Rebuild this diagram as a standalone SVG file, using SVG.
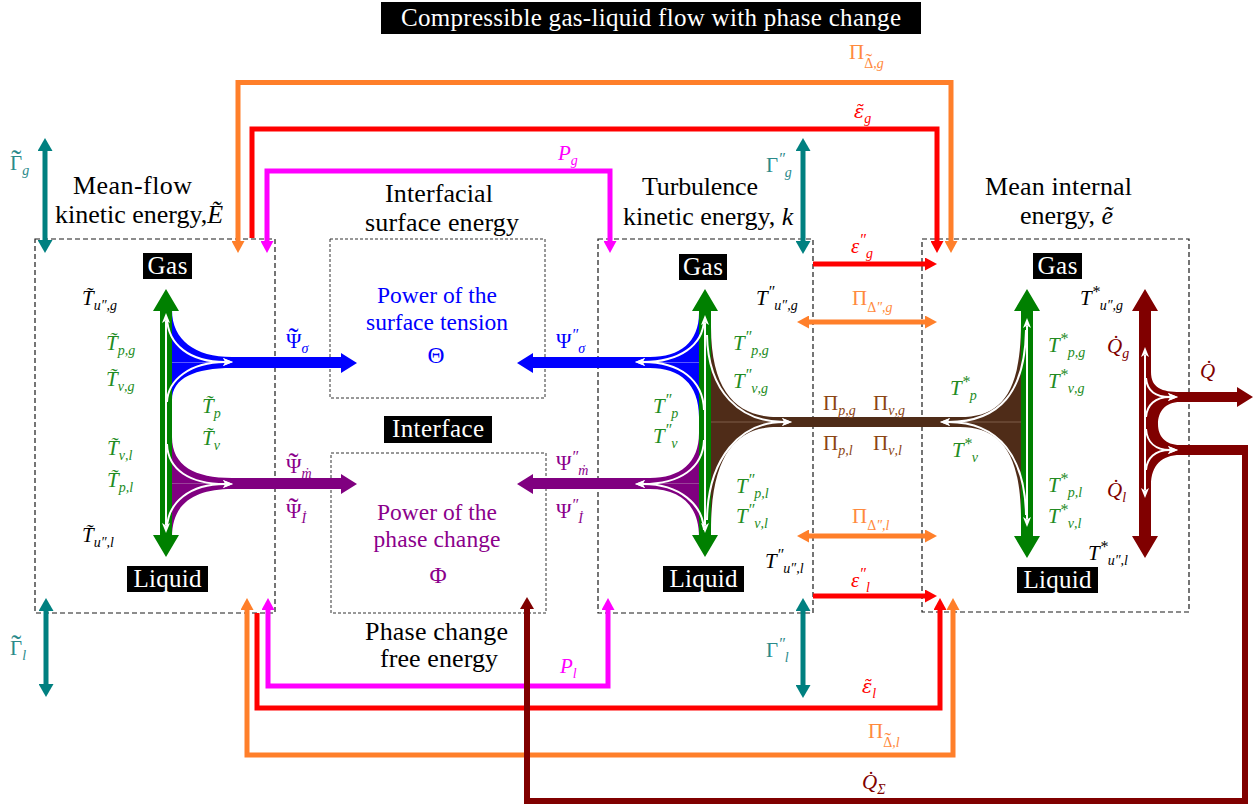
<svg xmlns="http://www.w3.org/2000/svg" width="1260" height="806" viewBox="0 0 1260 806" font-family="'Liberation Serif', 'Times New Roman', 'DejaVu Serif', serif">
<defs>
<style>
.box{fill:none;stroke:#1a1a1a;stroke-width:1.2;stroke-dasharray:5 3}
.ibox{fill:none;stroke:#333;stroke-width:1;stroke-dasharray:3 2}
.h{font-family:'Liberation Serif','Times New Roman','DejaVu Serif',serif;font-size:26px;fill:#000}
.hc{text-anchor:middle}
.in{font-family:'Liberation Serif','Times New Roman','DejaVu Serif',serif;font-size:23.5px;text-anchor:middle}
.tag{fill:#000}
.tt{font-family:'Liberation Serif','Times New Roman','DejaVu Serif',serif;font-size:25px;fill:#fff;text-anchor:middle}
.m{font-family:'Liberation Serif','Times New Roman','DejaVu Serif',serif;font-style:italic;font-size:21px}
.u{font-style:normal}
.gk{font-family:'DejaVu Serif',serif;font-size:19px}
.tl{font-style:normal;font-size:30px}
.tls{font-style:normal;font-size:20px}
.s{font-size:14px}
.p{font-size:16px}
.cg{fill:#228b22}.ck{fill:#000}.cb{fill:#0000ff}.cp{fill:#8b008b}.ct{fill:#2b8a8a}
.co{fill:#ff8a3d}.cr{fill:#ff0000}.cm{fill:#ff00ff}.cmr{fill:#800000}.cbr{fill:#8b4513}
.ln{fill:none;stroke-width:5}
.wa{fill:none;stroke:#fff;stroke-width:2;marker-end:url(#hW)}
.wd{fill:none;stroke:#fff;stroke-width:2;marker-start:url(#hW);marker-end:url(#hW)}
.fl{stroke-width:0.8;fill:none}
</style>
<marker id="hO" viewBox="0 0 12 13" refX="0" refY="6.5" markerWidth="12" markerHeight="13" markerUnits="userSpaceOnUse" orient="auto-start-reverse"><path d="M0,0L12,6.5L0,13Z" fill="#ff7f2a"/></marker>
<marker id="hR" viewBox="0 0 12 13" refX="0" refY="6.5" markerWidth="12" markerHeight="13" markerUnits="userSpaceOnUse" orient="auto-start-reverse"><path d="M0,0L12,6.5L0,13Z" fill="#ff0000"/></marker>
<marker id="hM" viewBox="0 0 12 13" refX="0" refY="6.5" markerWidth="12" markerHeight="13" markerUnits="userSpaceOnUse" orient="auto-start-reverse"><path d="M0,0L12,6.5L0,13Z" fill="#ff00ff"/></marker>
<marker id="hT" viewBox="0 0 13 15" refX="0" refY="7.5" markerWidth="13" markerHeight="15" markerUnits="userSpaceOnUse" orient="auto-start-reverse"><path d="M0,0L13,7.5L0,15Z" fill="#008080"/></marker>
<marker id="hMr" viewBox="0 0 12 14" refX="0" refY="7" markerWidth="12" markerHeight="14" markerUnits="userSpaceOnUse" orient="auto-start-reverse"><path d="M0,0L12,7L0,14Z" fill="#800000"/></marker>
<marker id="hW" viewBox="0 0 10 8" refX="2" refY="4" markerWidth="10" markerHeight="8" markerUnits="userSpaceOnUse" orient="auto-start-reverse"><path d="M0,0L10,4L0,8L2.5,4Z" fill="#fff"/></marker>
</defs>
<rect width="1260" height="806" fill="#fff"/>

<g id="node-title">
<rect x="381" y="2" width="540" height="32" class="tag"/>
<text x="651" y="26" class="tt" textLength="500">Compressible gas-liquid flow with phase change</text>
</g>

<g id="node-mean-flow-ke">
<rect x="35" y="239" width="240" height="374" class="box"/>
<text x="132.5" y="194" class="h hc" textLength="119">Mean-flow</text>
<text x="55" y="223" class="h">kinetic energy,<tspan font-style="italic">Ẽ</tspan></text>
<rect x="143" y="253" width="49" height="26" class="tag"/>
<text x="167.5" y="274" class="tt" textLength="40">Gas</text>
<rect x="127" y="566" width="81" height="26" class="tag"/>
<text x="167.5" y="587" class="tt" textLength="68">Liquid</text>
<polygon points="166,289 179,311 172,311 172,535 179,535 166,557 153,535 160,535 160,311 153,311" fill="#008000"/>
<text x="82" y="305" class="m ck">T̃<tspan class="s" dy="5">u″,g</tspan></text>
<text x="106" y="350" class="m cg">T̃<tspan class="s" dy="5">p,g</tspan></text>
<text x="106" y="386" class="m cg">T̃<tspan class="s" dy="5">ν,g</tspan></text>
<text x="202" y="413" class="m cg">T̃<tspan class="s" dy="5">p</tspan></text>
<text x="202" y="445" class="m cg">T̃<tspan class="s" dy="5">ν</tspan></text>
<text x="107" y="455" class="m cg">T̃<tspan class="s" dy="5">ν,l</tspan></text>
<text x="107" y="487" class="m cg">T̃<tspan class="s" dy="5">p,l</tspan></text>
<text x="82" y="542" class="m ck">T̃<tspan class="s" dy="5">u″,l</tspan></text>
</g>

<g id="node-interfacial-surface-energy">
<rect x="330" y="239" width="215" height="159" class="ibox"/>
<text x="439" y="202" class="h hc" textLength="108">Interfacial</text>
<text x="442" y="231" class="h hc" textLength="154">surface energy</text>
<text x="437" y="303" class="in cb" textLength="120">Power of the</text>
<text x="437" y="330" class="in cb" textLength="142">surface tension</text>
<text x="436" y="363" class="in cb">Θ</text>
</g>

<g id="node-interface">
<rect x="384" y="416" width="108" height="27" class="tag"/>
<text x="438" y="437" class="tt" textLength="92">Interface</text>
</g>

<g id="node-phase-change-free-energy">
<rect x="331" y="453" width="215" height="160" class="ibox"/>
<text x="437" y="520" class="in cp" textLength="120">Power of the</text>
<text x="437" y="547" class="in cp" textLength="127">phase change</text>
<text x="438" y="583" class="in cp">Φ</text>
<text x="436.5" y="640" class="h hc" textLength="143">Phase change</text>
<text x="439" y="667" class="h hc" textLength="118">free energy</text>
</g>

<g id="node-turbulence-ke">
<rect x="598" y="239" width="215" height="374" class="box"/>
<text x="700" y="195" class="h hc" textLength="116">Turbulence</text>
<text x="623" y="225" class="h">kinetic energy, <tspan font-style="italic">k</tspan></text>
<rect x="679" y="254" width="48" height="26" class="tag"/>
<text x="703" y="275" class="tt" textLength="40">Gas</text>
<rect x="663" y="566" width="81" height="26" class="tag"/>
<text x="703.5" y="587" class="tt" textLength="68">Liquid</text>
<polygon points="705,289 718,311 711,311 711,535 718,535 705,557 692,535 699,535 699,311 692,311" fill="#008000"/>
<text x="756" y="305" class="m ck">T<tspan class="p" dy="-8">″</tspan><tspan class="s" dy="13">u″,g</tspan></text>
<text x="733" y="350" class="m cg">T<tspan class="p" dy="-8">″</tspan><tspan class="s" dy="13">p,g</tspan></text>
<text x="733" y="388" class="m cg">T<tspan class="p" dy="-8">″</tspan><tspan class="s" dy="13">ν,g</tspan></text>
<text x="653" y="413" class="m cg">T<tspan class="p" dy="-8">″</tspan><tspan class="s" dy="13">p</tspan></text>
<text x="653" y="443" class="m cg">T<tspan class="p" dy="-8">″</tspan><tspan class="s" dy="13">ν</tspan></text>
<text x="736" y="493" class="m cg">T<tspan class="p" dy="-8">″</tspan><tspan class="s" dy="13">p,l</tspan></text>
<text x="736" y="523" class="m cg">T<tspan class="p" dy="-8">″</tspan><tspan class="s" dy="13">ν,l</tspan></text>
<text x="765" y="568" class="m ck">T<tspan class="p" dy="-8">″</tspan><tspan class="s" dy="13">u″,l</tspan></text>
</g>

<g id="node-mean-internal-energy">
<rect x="922" y="239" width="267" height="373" class="box"/>
<text x="1058.5" y="195" class="h hc" textLength="147">Mean internal</text>
<text x="1020" y="224" class="h">energy, <tspan font-style="italic">ẽ</tspan></text>
<rect x="1033" y="253" width="49" height="26" class="tag"/>
<text x="1057.5" y="274" class="tt" textLength="40">Gas</text>
<rect x="1017" y="567" width="81" height="26" class="tag"/>
<text x="1057.5" y="588" class="tt" textLength="68">Liquid</text>
<polygon points="1027,289 1040,311 1033,311 1033,536 1040,536 1027,558 1014,536 1021,536 1021,311 1014,311" fill="#008000"/>
<text x="1080" y="305" class="m ck">T<tspan class="p" dy="-8">*</tspan><tspan class="s" dy="13">u″,g</tspan></text>
<text x="1048" y="352" class="m cg">T<tspan class="p" dy="-8">*</tspan><tspan class="s" dy="13">p,g</tspan></text>
<text x="1048" y="388" class="m cg">T<tspan class="p" dy="-8">*</tspan><tspan class="s" dy="13">ν,g</tspan></text>
<text x="950" y="395" class="m cg">T<tspan class="p" dy="-8">*</tspan><tspan class="s" dy="13">p</tspan></text>
<text x="952" y="457" class="m cg">T<tspan class="p" dy="-8">*</tspan><tspan class="s" dy="13">ν</tspan></text>
<text x="1048" y="492" class="m cg">T<tspan class="p" dy="-8">*</tspan><tspan class="s" dy="13">p,l</tspan></text>
<text x="1048" y="523" class="m cg">T<tspan class="p" dy="-8">*</tspan><tspan class="s" dy="13">ν,l</tspan></text>
<text x="1088" y="560" class="m ck">T<tspan class="p" dy="-8">*</tspan><tspan class="s" dy="13">u″,l</tspan></text>
<text x="1107" y="353" class="m cmr">Q̇<tspan class="s" dy="5">g</tspan></text>
<text x="1107" y="497" class="m cmr">Q̇<tspan class="s" dy="5">l</tspan></text>
</g>

<g id="connectors">
<path d="M238,241 L238,82.5 L951,82.5 L951,241" class="ln" stroke="#ff7f2a" marker-start="url(#hO)" marker-end="url(#hO)"/>
<path d="M252,238 L252,129 L937,129 L937,241" class="ln" stroke="#ff0000" marker-end="url(#hR)"/>
<path d="M267,241 L267,171 L610,171 L610,241" class="ln" stroke="#ff00ff" marker-start="url(#hM)" marker-end="url(#hM)"/>
<path d="M268,610 L268,686 L608,686 L608,610" class="ln" stroke="#ff00ff" marker-start="url(#hM)" marker-end="url(#hM)"/>
<path d="M257,613 L257,708 L940,708 L940,610" class="ln" stroke="#ff0000" marker-end="url(#hR)"/>
<path d="M247,610 L247,755 L953,755 L953,610" class="ln" stroke="#ff7f2a" marker-start="url(#hO)" marker-end="url(#hO)"/>
<path d="M813,264 L925,264" class="ln" stroke="#ff0000" marker-end="url(#hR)"/>
<path d="M809,322 L925,322" class="ln" stroke="#ff7f2a" marker-start="url(#hO)" marker-end="url(#hO)"/>
<path d="M809,536 L925,536" class="ln" stroke="#ff7f2a" marker-start="url(#hO)" marker-end="url(#hO)"/>
<path d="M813,596 L925,596" class="ln" stroke="#ff0000" marker-end="url(#hR)"/>
<path d="M45,151 L45,240" class="ln" stroke="#008080" marker-start="url(#hT)" marker-end="url(#hT)"/>
<path d="M46,611 L46,684" class="ln" stroke="#008080" marker-start="url(#hT)" marker-end="url(#hT)"/>
<path d="M803,151 L803,241" class="ln" stroke="#008080" marker-start="url(#hT)" marker-end="url(#hT)"/>
<path d="M803,611 L803,685" class="ln" stroke="#008080" marker-start="url(#hT)" marker-end="url(#hT)"/>
<path d="M172,310 C172,340 195,357 232,357 L341,357 L341,353 L357,363 L341,373 L341,368 L232,368 C195,368 172,378 172,400 Z" fill="#0000ff"/>
<path d="M172,437 C172,466 195,478 232,478 L341,478 L341,474 L357,484 L341,494 L341,489 L232,489 C195,489 172,503 172,537 Z" fill="#800080"/>
<path d="M699,313 C699,342 680,357 650,357 L533,357 L533,353 L517,363 L533,373 L533,368 L650,368 C680,368 699,384 699,417 Z" fill="#0000ff"/>
<path d="M699,433 C699,463 680,478 650,478 L533,478 L533,474 L517,484 L533,494 L533,489 L650,489 C680,489 699,505 699,537 Z" fill="#800080"/>
<path d="M711,327 C711,395 740,417 777,417 L960,417 C1000,417 1021,395 1021,323 L1021,520 C1021,452 1000,427 960,427 L777,427 C740,427 711,450 711,530 Z" fill="#4f2c18"/>
<path d="M172,362.5 L232,362.5" class="fl" stroke="#7070ff"/>
<path d="M172,483.5 L232,483.5" class="fl" stroke="#a050a0"/>
<path d="M650,362.5 L699,362.5" class="fl" stroke="#7070ff"/>
<path d="M650,483.5 L699,483.5" class="fl" stroke="#a050a0"/>
<path d="M711,422 L770,422 M965,422 L1021,422" class="fl" stroke="#8a6a55"/>
<polygon points="1145,289 1158,311 1151,311 1151,536 1158,536 1145,558 1132,536 1139,536 1139,311 1132,311" fill="#800000"/>
<path d="M1151,372 C1151,388 1162,392 1180,392 L1237,392 L1237,387 L1253,397 L1237,407 L1237,402 L1180,402 C1165,402 1158,412 1158,424 C1158,436 1165,445 1180,445 L1248,445 L1248,455 L1180,455 C1162,455 1151,465 1151,485 Z" fill="#800000"/>
<path d="M1245,450 L1245,801 L527,801 L527,609" fill="none" stroke="#800000" stroke-width="6" marker-end="url(#hMr)"/>
<path d="M166,321 L166,525" class="wd"/>
<path d="M167,318 C168,345 190,362 225,362" class="wa"/>
<path d="M167,402 C168,380 190,362 225,362" class="wa"/>
<path d="M167,444 C168,470 190,484 225,484" class="wa"/>
<path d="M167,528 C168,502 190,484 225,484" class="wa"/>
<path d="M705,323 L705,525" class="wd"/>
<path d="M704,320 C703,345 680,362 643,362" class="wa"/>
<path d="M704,410 C703,380 680,362 643,362" class="wa"/>
<path d="M704,440 C703,468 680,484 643,484" class="wa"/>
<path d="M704,530 C703,505 680,484 643,484" class="wa"/>
<path d="M707,335 C708,392 740,422 784,422" class="wa"/>
<path d="M707,520 C708,458 740,422 784,422" class="wa"/>
<path d="M1027,326 L1027,519" class="wd"/>
<path d="M1026,330 C1025,392 1000,422 948,422" class="wa"/>
<path d="M1026,515 C1025,458 1000,422 948,422" class="wa"/>
<path d="M1145,355 L1145,490" class="wd"/>
<path d="M1146,378 C1147,390 1155,397 1170,397" class="wa"/>
<path d="M1146,417 C1147,405 1155,397 1170,397" class="wa"/>
<path d="M1146,429 C1147,442 1155,450 1170,450" class="wa"/>
<path d="M1146,470 C1147,458 1155,450 1170,450" class="wa"/>
<text x="849" y="59" class="m co"><tspan class="u">Π</tspan><tspan class="s u" dy="9">Δ</tspan><tspan class="tls" dx="-7.6">˜</tspan><tspan class="s" dx="1">,g</tspan></text>
<text x="854" y="118" class="m cr"><tspan class="gk">ε̃</tspan><tspan class="s" dy="5">g</tspan></text>
<text x="558" y="160" class="m cm">P<tspan class="s" dy="5">g</tspan></text>
<text x="10" y="170" class="m ct"><tspan class="u">Γ</tspan><tspan class="tl" dx="-11">˜</tspan><tspan class="s" dx="1" dy="5">g</tspan></text>
<text x="766" y="172" class="m ct"><tspan class="u">Γ</tspan><tspan class="p" dy="-8">″</tspan><tspan class="s" dy="13">g</tspan></text>
<text x="851" y="253" class="m cr">ε<tspan class="p" dy="-8">″</tspan><tspan class="s" dy="13">g</tspan></text>
<text x="852" y="305" class="m co"><tspan class="u">Π</tspan><tspan class="s" dy="7"><tspan class="u">Δ</tspan>″,g</tspan></text>
<text x="286" y="348" class="m cb"><tspan class="u">Ψ</tspan><tspan class="tl" dx="-13">˜</tspan><tspan class="s" dx="3" dy="5">σ</tspan></text>
<text x="556" y="348" class="m cb"><tspan class="u">Ψ</tspan><tspan class="p" dy="-8">″</tspan><tspan class="s" dy="13">σ</tspan></text>
<text x="823" y="410" class="m cbr"><tspan class="u">Π</tspan><tspan class="s" dy="5">p,g</tspan></text>
<text x="873" y="410" class="m cbr"><tspan class="u">Π</tspan><tspan class="s" dy="5">ν,g</tspan></text>
<text x="823" y="450" class="m cbr"><tspan class="u">Π</tspan><tspan class="s" dy="5">p,l</tspan></text>
<text x="873" y="450" class="m cbr"><tspan class="u">Π</tspan><tspan class="s" dy="5">ν,l</tspan></text>
<text x="1200" y="378" class="m cmr">Q̇</text>
<text x="286" y="473" class="m cp"><tspan class="u">Ψ</tspan><tspan class="tl" dx="-13">˜</tspan><tspan class="s" dx="3" dy="5">ṁ</tspan></text>
<text x="286" y="518" class="m cp"><tspan class="u">Ψ</tspan><tspan class="tl" dx="-13">˜</tspan><tspan class="s" dx="3" dy="5">İ</tspan></text>
<text x="556" y="470" class="m cp"><tspan class="u">Ψ</tspan><tspan class="p" dy="-8">″</tspan><tspan class="s" dy="13">ṁ</tspan></text>
<text x="556" y="518" class="m cp"><tspan class="u">Ψ</tspan><tspan class="p" dy="-8">″</tspan><tspan class="s" dy="13">İ</tspan></text>
<text x="852" y="523" class="m co"><tspan class="u">Π</tspan><tspan class="s" dy="7"><tspan class="u">Δ</tspan>″,l</tspan></text>
<text x="851" y="587" class="m cr">ε<tspan class="p" dy="-8">″</tspan><tspan class="s" dy="13">l</tspan></text>
<text x="10" y="655" class="m ct"><tspan class="u">Γ</tspan><tspan class="tl" dx="-11">˜</tspan><tspan class="s" dx="1" dy="5">l</tspan></text>
<text x="766" y="657" class="m ct"><tspan class="u">Γ</tspan><tspan class="p" dy="-8">″</tspan><tspan class="s" dy="13">l</tspan></text>
<text x="560" y="673" class="m cm">P<tspan class="s" dy="5">l</tspan></text>
<text x="862" y="693" class="m cr"><tspan class="gk">ε̃</tspan><tspan class="s" dy="5">l</tspan></text>
<text x="868" y="738" class="m co"><tspan class="u">Π</tspan><tspan class="s u" dy="9">Δ</tspan><tspan class="tls" dx="-7.6">˜</tspan><tspan class="s" dx="1">,l</tspan></text>
<text x="862" y="789" class="m cmr">Q̇<tspan class="s" dy="5">Σ</tspan></text>
</g>
</svg>
